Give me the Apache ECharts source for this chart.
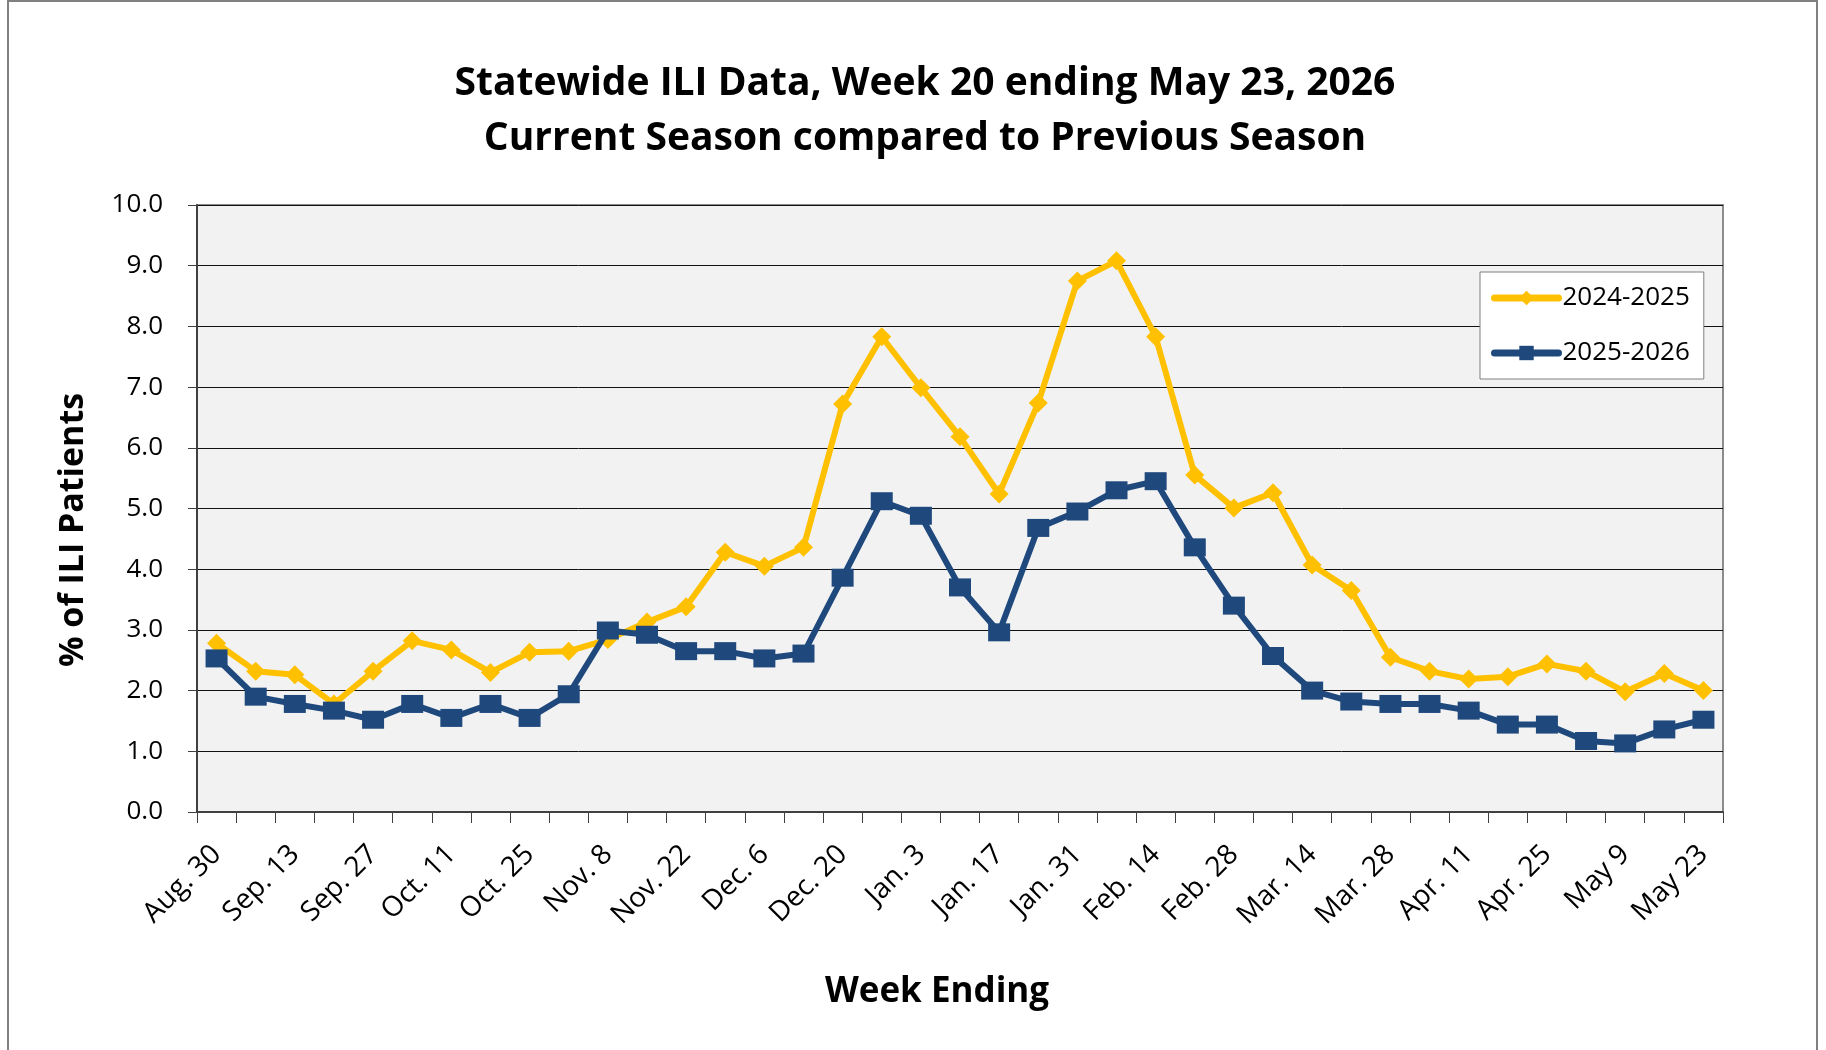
<!DOCTYPE html>
<html>
<head>
<meta charset="utf-8">
<style>
    html, body { margin: 0; padding: 0; background: #fff; }
    #chart { width: 1826px; height: 1050px; }
</style>
<script src="https://cdn.jsdelivr.net/npm/echarts@6/dist/echarts.min.js"></script>
</head>
<body>
<div id="chart"></div>
<script>
// week ending dates (every week, every other one labelled)
const weeks = [
    "Aug. 30", "Sep. 6", "Sep. 13", "Sep. 20", "Sep. 27", "Oct. 4", "Oct. 11", "Oct. 18", "Oct. 25",
    "Nov. 1", "Nov. 8", "Nov. 15", "Nov. 22", "Nov. 29", "Dec. 6", "Dec. 13", "Dec. 20", "Dec. 27",
    "Jan. 3", "Jan. 10", "Jan. 17", "Jan. 24", "Jan. 31", "Feb. 7", "Feb. 14", "Feb. 21", "Feb. 28",
    "Mar. 7", "Mar. 14", "Mar. 21", "Mar. 28", "Apr. 4", "Apr. 11", "Apr. 18", "Apr. 25",
    "May 2", "May 9", "May 16", "May 23"
];
// % of ILI patients, previous season
const season2425 = [
    2.78, 2.32, 2.26, 1.78, 2.32, 2.82, 2.67, 2.30, 2.63,
    2.65, 2.84, 3.13, 3.38, 4.28, 4.05, 4.36, 6.72, 7.83,
    6.99, 6.18, 5.24, 6.74, 8.75, 9.08, 7.83, 5.55, 5.01,
    5.26, 4.07, 3.65, 2.55, 2.32, 2.19, 2.23, 2.44,
    2.32, 1.98, 2.28, 2.00
];
// % of ILI patients, current season
const season2526 = [
    2.53, 1.90, 1.78, 1.67, 1.52, 1.78, 1.55, 1.78, 1.55,
    1.94, 2.99, 2.92, 2.65, 2.65, 2.53, 2.61, 3.86, 5.12,
    4.88, 3.70, 2.96, 4.68, 4.95, 5.30, 5.45, 4.36, 3.40,
    2.57, 2.00, 1.82, 1.78, 1.78, 1.67, 1.44, 1.44,
    1.17, 1.13, 1.36, 1.52
];

const chart = echarts.init(document.getElementById('chart'));
const font = "'Open Sans', 'Noto Sans', sans-serif";

const option = {
    animation: false,
    textStyle: { fontFamily: font, color: '#000' },
    title: {
        text: 'Statewide ILI Data, Week 20 ending May 23, 2026\nCurrent Season compared to Previous Season',
        left: 920,
        top: 51,
        textAlign: 'center',
        textStyle: { fontFamily: font, fontSize: 39, fontWeight: 'bold', color: '#000', lineHeight: 55 }
    },
    graphic: [
        // outer frame
        {
            type: 'rect',
            shape: { x: 8, y: 1, width: 1809, height: 1100 },
            style: { fill: 'none', stroke: '#808080', lineWidth: 2 },
            silent: true
        },
        // axis titles
        {
            type: 'text',
            x: 73,
            y: 530,
            rotation: Math.PI / 2,
            style: {
                text: '% of ILI Patients',
                font: "bold 34px 'Open Sans', 'Noto Sans', sans-serif",
                fill: '#000',
                align: 'center',
                verticalAlign: 'middle'
            }
        },
        {
            type: 'text',
            x: 937,
            y: 992,
            style: {
                text: 'Week Ending',
                font: "bold 35px 'Open Sans', 'Noto Sans', sans-serif",
                fill: '#000',
                align: 'center',
                verticalAlign: 'middle'
            }
        }
    ],
    legend: {
        orient: 'vertical',
        left: 1480,
        top: 272,
        padding: [11, 14, 11, 11],
        itemWidth: 64,
        itemHeight: 18,
        itemGap: 25,
        backgroundColor: '#fff',
        borderColor: '#808080',
        borderWidth: 1,
        borderRadius: 0,
        lineStyle: { width: 7, cap: 'round' },
        textStyle: { fontFamily: font, fontSize: 26, color: '#000', lineHeight: 30, padding: [0, 0, 0, -1] },
        data: ['2024-2025', '2025-2026']
    },
    grid: {
        left: 197,
        top: 205,
        right: 103,
        bottom: 238,
        show: true,
        backgroundColor: '#f2f2f2',
        borderColor: '#8c8c8c',
        borderWidth: 2
    },
    xAxis: {
        type: 'category',
        data: weeks,
        boundaryGap: true,
        axisLine: { lineStyle: { color: '#404040', width: 2 } },
        axisTick: { show: true, interval: 0, length: 11, lineStyle: { color: '#404040', width: 1 } },
        axisLabel: { interval: 1, rotate: 45, margin: 38, fontSize: 28, color: '#000', fontFamily: font },
        splitLine: { show: false }
    },
    yAxis: {
        type: 'value',
        min: 0,
        max: 10,
        interval: 1,
        axisLine: { show: true, lineStyle: { color: '#404040', width: 2 } },
        axisTick: { show: true, length: 9, lineStyle: { color: '#404040', width: 1 } },
        axisLabel: { margin: 34, fontSize: 26, color: '#000', fontFamily: font, formatter: v => v.toFixed(1) },
        splitLine: { show: true, lineStyle: { color: '#111', width: 1 } }
    },
    series: [
        {
            name: '2024-2025',
            type: 'line',
            data: season2425,
            symbol: 'diamond',
            symbolSize: [19, 19],
            color: '#ffc000',
            lineStyle: { width: 6, color: '#ffc000' },
            itemStyle: { color: '#ffc000' },
            z: 2
        },
        {
            name: '2025-2026',
            type: 'line',
            data: season2526,
            symbol: 'rect',
            symbolSize: [22, 18],
            color: '#1f497d',
            lineStyle: { width: 6, color: '#1f497d' },
            itemStyle: { color: '#1f497d' },
            z: 3
        }
    ]
};

chart.setOption(option);
</script>
</body>
</html>
